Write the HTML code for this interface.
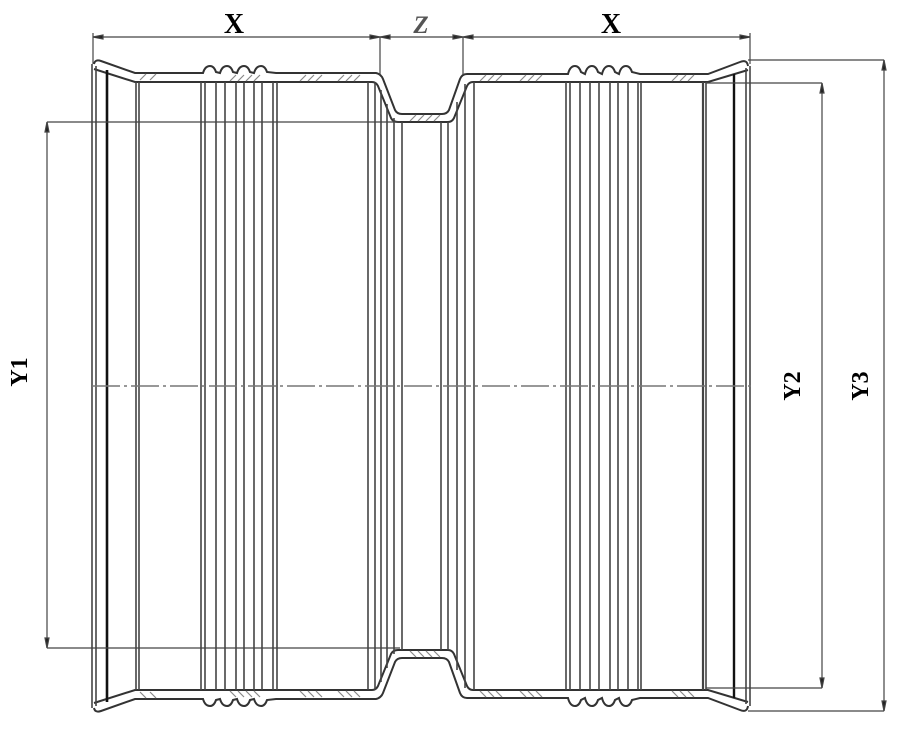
<!DOCTYPE html>
<html><head><meta charset="utf-8"><style>
html,body{margin:0;padding:0;background:#fff;}
svg{display:block;}
text{font-family:"Liberation Serif",serif;font-weight:bold;}
</style></head><body>
<svg width="919" height="750" viewBox="0 0 919 750" xmlns="http://www.w3.org/2000/svg">
<defs>
<g id="wall">
  <path d="M94,64 Q95,59 101,61 L135,73 L203,73 Q205,66 210,66 Q214,66 216,72 L220,73 Q222,66 227,66 Q231,66 233,72 L237,73 Q239,66 244,66 Q248,66 250,72 L254,73 Q256,66 261,66 Q265,66 267,72 L276,73 L376,73 Q381,74 383,79 L395,110 Q397,114 402,114 L442,114 Q447,114 449,110 L460,79 Q462,74 467,74 L568,74 Q570,66 575,66 Q579,66 581,72 L585,74 Q587,66 592,66 Q596,66 598,72 L602,74 Q604,66 609,66 Q613,66 615,72 L619,74 Q621,66 626,66 Q630,66 632,72 L640,74 L708,74 L740,62 Q747,59 748,66" fill="none" stroke="#333" stroke-width="2"/>
  <path d="M94,69 L135,82 L372,82 Q376,82 378,86 L391,118 Q393,122 398,122 L448,122 Q452,122 454,118 L467,86 Q469,82 473,82 L708,82 L748,70" fill="none" stroke="#333" stroke-width="2"/>
  <path d="M230,81 l6,-6 M238,81 l6,-6 M246,81 l6,-6 M254,81 l6,-6 M300,81 l6,-6 M308,81 l6,-6 M316,81 l6,-6 M338,81 l6,-6 M346,81 l6,-6 M354,81 l6,-6 M410,121 l6,-6 M418,121 l6,-6 M426,121 l6,-6 M434,121 l6,-6 M480,81 l6,-6 M488,81 l6,-6 M496,81 l6,-6 M520,81 l6,-6 M528,81 l6,-6 M536,81 l6,-6 M672,81 l6,-6 M680,81 l6,-6 M688,81 l6,-6 M140,80 l6,-6 M150,80 l6,-6" stroke="#888" stroke-width="1.2"/>
</g>
</defs>
<use href="#wall"/>
<use href="#wall" transform="translate(0,772) scale(1,-1)"/>

<g stroke="#444" stroke-width="1.6">
  <line x1="92" y1="64" x2="92" y2="708"/>
  <line x1="96" y1="66" x2="96" y2="706"/>
  <line x1="107" y1="70" x2="107" y2="702" stroke="#111" stroke-width="2.6"/>
  <line x1="136" y1="82" x2="136" y2="690"/>
  <line x1="139" y1="82" x2="139" y2="690"/>
  <line x1="201" y1="82" x2="201" y2="690"/>
  <line x1="205" y1="82" x2="205" y2="690"/>
  <line x1="216" y1="82" x2="216" y2="690"/>
  <line x1="225" y1="82" x2="225" y2="690"/>
  <line x1="236" y1="82" x2="236" y2="690"/>
  <line x1="244" y1="82" x2="244" y2="690"/>
  <line x1="254" y1="82" x2="254" y2="690"/>
  <line x1="262" y1="82" x2="262" y2="690"/>
  <line x1="273" y1="82" x2="273" y2="690"/>
  <line x1="277" y1="82" x2="277" y2="690"/>
  <line x1="368" y1="82" x2="368" y2="690"/>
  <line x1="375" y1="82" x2="375" y2="690"/>
  <line x1="381" y1="90" x2="381" y2="682"/>
  <line x1="387" y1="104" x2="387" y2="668"/>
  <line x1="394" y1="118" x2="394" y2="654"/>
  <line x1="402" y1="122" x2="402" y2="650"/>
  <line x1="441" y1="122" x2="441" y2="650"/>
  <line x1="448" y1="122" x2="448" y2="650"/>
  <line x1="457" y1="102" x2="457" y2="670"/>
  <line x1="465" y1="84" x2="465" y2="688"/>
  <line x1="474" y1="82" x2="474" y2="690"/>
  <line x1="566" y1="82" x2="566" y2="690"/>
  <line x1="570" y1="82" x2="570" y2="690"/>
  <line x1="580" y1="82" x2="580" y2="690"/>
  <line x1="590" y1="82" x2="590" y2="690"/>
  <line x1="599" y1="82" x2="599" y2="690"/>
  <line x1="610" y1="82" x2="610" y2="690"/>
  <line x1="618" y1="82" x2="618" y2="690"/>
  <line x1="628" y1="82" x2="628" y2="690"/>
  <line x1="638" y1="82" x2="638" y2="690"/>
  <line x1="641" y1="82" x2="641" y2="690"/>
  <line x1="703" y1="82" x2="703" y2="690" stroke-width="2.2"/>
  <line x1="706" y1="82" x2="706" y2="690"/>
  <line x1="734" y1="74" x2="734" y2="698" stroke="#111" stroke-width="2.4"/>
  <line x1="746" y1="68" x2="746" y2="704"/>
  <line x1="750" y1="66" x2="750" y2="706"/>
</g>

<line x1="92" y1="386" x2="752" y2="386" stroke="#777" stroke-width="1.5" stroke-dasharray="28,4,3,4"/>

<g stroke="#444" stroke-width="1.2" fill="#222">
  <line x1="93" y1="37" x2="750" y2="37"/>
  <line x1="93" y1="33" x2="93" y2="64"/>
  <line x1="380" y1="37" x2="380" y2="75"/>
  <line x1="463" y1="37" x2="463" y2="75"/>
  <line x1="750" y1="33" x2="750" y2="64"/>
  <path d="M93,37 l10,-2 v4z M380,37 l-10,-2 v4z M380,37 l10,-2 v4z M463,37 l-10,-2 v4z M463,37 l10,-2 v4z M750,37 l-10,-2 v4z" />
  <line x1="47" y1="122" x2="47" y2="648"/>
  <line x1="47" y1="122" x2="400" y2="122"/>
  <line x1="47" y1="648" x2="400" y2="648"/>
  <path d="M47,122 l-2,10 h4z M47,648 l-2,-10 h4z"/>
  <line x1="822" y1="83" x2="822" y2="688"/>
  <line x1="706" y1="83" x2="822" y2="83"/>
  <line x1="706" y1="688" x2="822" y2="688"/>
  <path d="M822,83 l-2,10 h4z M822,688 l-2,-10 h4z"/>
  <line x1="884" y1="60" x2="884" y2="711"/>
  <line x1="748" y1="60" x2="884" y2="60"/>
  <line x1="748" y1="711" x2="884" y2="711"/>
  <path d="M884,60 l-2,10 h4z M884,711 l-2,-10 h4z"/>
</g>

<text x="234" y="33" font-size="28" text-anchor="middle">X</text>
<text x="611" y="33" font-size="28" text-anchor="middle">X</text>
<text x="421" y="33" font-size="25" text-anchor="middle" font-style="italic" font-weight="normal" fill="#555">Z</text>
<text transform="translate(27,372) rotate(-90)" font-size="24" text-anchor="middle">Y1</text>
<text transform="translate(800,386) rotate(-90)" font-size="24" text-anchor="middle">Y2</text>
<text transform="translate(868,386) rotate(-90)" font-size="24" text-anchor="middle">Y3</text>
</svg>
</body></html>
